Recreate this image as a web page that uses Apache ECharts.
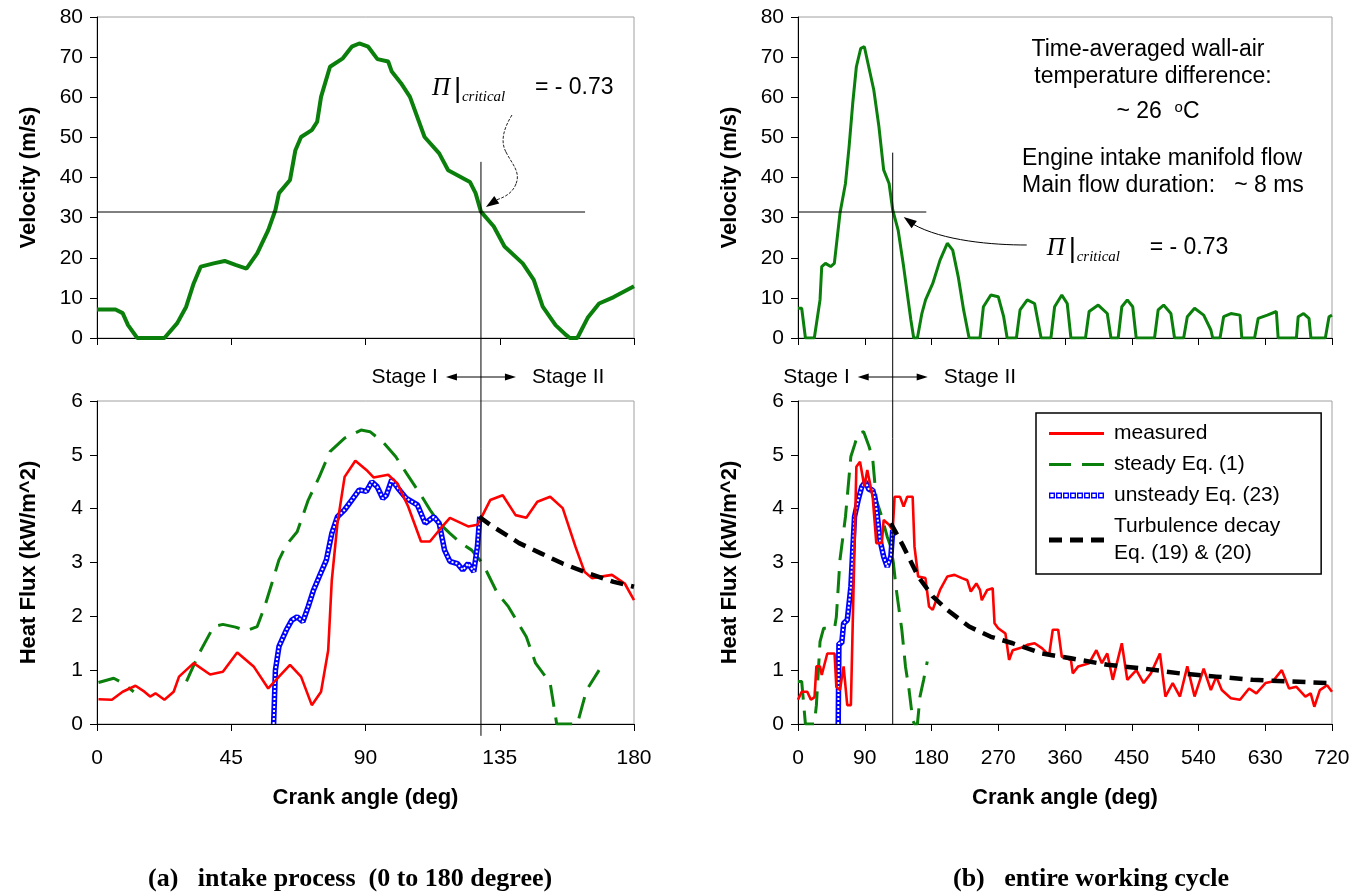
<!DOCTYPE html>
<html>
<head>
<meta charset="utf-8">
<script src="https://cdn.jsdelivr.net/npm/echarts@6/dist/echarts.min.js"></script>
<style>
  html, body { margin: 0; padding: 0; background: #fff; }
  #chart { width: 1360px; height: 895px; }
</style>
</head>
<body>
<div id="chart"></div>
<script>
// ---------- axis ticks ----------
const intakeAngleTicks = [0, 45, 90, 135, 180];
const cycleAngleTicks = [0, 90, 180, 270, 360, 450, 540, 630, 720];
const velocityTicks = [0, 10, 20, 30, 40, 50, 60, 70, 80];
const heatFluxTicks = [0, 1, 2, 3, 4, 5, 6];

// ---------- critical point (Stage I / Stage II boundary) ----------
const criticalVelocity = 31.4;
const criticalAngleIntake = 128.7;
const criticalAngleCycle = 127.7;
const criticalLineEndIntake = 163.6;
const criticalLineEndCycle = 173;

// ---------- (a) intake process, 0-180 deg ----------
const intakeVelocity = [
  [0, 7.1], [6.2, 7.1], [8.6, 6.2], [10.4, 3.2], [13.5, 0], [22.6, 0], [26.9, 3.7], [29.9, 7.8],
  [32.4, 13.6], [34.8, 17.8], [39.1, 18.6], [42.8, 19.2], [46.4, 18.2], [50.1, 17.3], [53.7, 21.1],
  [57.4, 26.9], [59.8, 31.9], [61.0, 36.1], [64.7, 39.4], [66.5, 46.8], [68.4, 50.1], [72.0, 51.8],
  [73.8, 53.9], [75.1, 60.1], [78.1, 67.6], [82.4, 69.7], [85.4, 72.6], [87.9, 73.4], [90.9, 72.6],
  [94.0, 69.5], [97.6, 68.9], [98.8, 66.4], [101.9, 63.5], [104.9, 60.1], [109.8, 50.1], [114.7, 46.0],
  [117.7, 41.8], [125.0, 38.9], [126.9, 36.1], [128.7, 31.5], [133.0, 27.8], [136.6, 22.8], [142.7, 18.6],
  [146.4, 14.5], [149.4, 7.8], [153.7, 3.2], [157.3, 0.7], [158.5, 0], [161.0, 0], [164.6, 5.2],
  [168.3, 8.6], [173.2, 10.2], [180, 12.9]
];
const intakeMeasured = [
  [0.5, 0.46], [5, 0.45], [8.6, 0.60], [12.9, 0.71], [15.9, 0.60], [17.8, 0.51], [19.6, 0.57], [22.6, 0.45],
  [25.7, 0.60], [27.5, 0.88], [32.4, 1.13], [37.9, 0.92], [42.2, 0.97], [47.0, 1.33], [52.5, 1.07],
  [57.4, 0.66], [61.0, 0.88], [64.7, 1.10], [68.4, 0.88], [72.0, 0.35], [75.1, 0.60], [77.5, 1.37],
  [78.7, 2.67], [80.6, 3.73], [83.0, 4.59], [86.6, 4.89], [90.3, 4.72], [92.7, 4.58], [97.6, 4.63],
  [100.7, 4.47], [104.3, 4.04], [108.6, 3.39], [111.6, 3.39], [114.7, 3.60], [118.3, 3.83], [124.4, 3.67],
  [127.5, 3.70], [128.7, 3.82], [131.8, 4.16], [136.0, 4.25], [140.3, 3.88], [143.9, 3.83], [147.6, 4.13],
  [151.9, 4.22], [156.1, 4.01], [160.4, 3.29], [163.4, 2.83], [165.9, 2.71], [172.6, 2.77], [176.9, 2.61],
  [180, 2.30]
];
const intakeSteady = [
  [0.5, 0.77], [5.6, 0.85], [8.6, 0.76], [12.3, 0.60], [20, null],
  [30, 0.79], [34.2, 1.31], [39.1, 1.81], [42.2, 1.85], [46.4, 1.80], [50.1, 1.73], [53.7, 1.81],
  [56.2, 2.18], [58.6, 2.61], [61.0, 3.05], [63.5, 3.33], [67.1, 3.57], [70.8, 4.16], [74.5, 4.59],
  [78.1, 5.06], [83.0, 5.31], [88.5, 5.46], [91.5, 5.43], [95.8, 5.24], [100.1, 4.97], [103.7, 4.66],
  [108.6, 4.25], [111.6, 3.98], [114.7, 3.73], [118.3, 3.54], [122.0, 3.36], [125.6, 3.23], [129.3, 2.98],
  [134.2, 2.43], [137.9, 2.18], [143.9, 1.62], [147.0, 1.13], [151.9, 0.76], [154.1, 0], [161, 0],
  [164.1, 0.63], [168.3, 1.00]
];
const intakeUnsteady = [
  [59.2, 0], [59.8, 1.0], [61.0, 1.44], [63.5, 1.75], [65.3, 1.93], [67.1, 1.99], [69.0, 1.90],
  [70.8, 2.18], [72.6, 2.49], [74.5, 2.74], [76.9, 3.05], [78.7, 3.54], [80.6, 3.85], [83.0, 3.98],
  [85.4, 4.16], [87.9, 4.35], [90.3, 4.32], [92.1, 4.50], [93.9, 4.41], [95.8, 4.19], [97.0, 4.25],
  [98.8, 4.54], [101.3, 4.35], [103.7, 4.19], [107.4, 4.07], [110.0, 3.73], [112.9, 3.85], [114.7, 3.73],
  [116.5, 3.23], [118.3, 3.02], [120.8, 2.98], [122.6, 2.86], [124.4, 2.98], [126.3, 2.83], [127.5, 3.29],
  [128.3, 3.85]
];
const intakeDecay = [
  [128.1, 3.85], [131.8, 3.70], [141.5, 3.36], [148.8, 3.17], [156.1, 2.98], [164.7, 2.80],
  [173.2, 2.64], [180, 2.55]
];

// ---------- (b) entire working cycle, 0-720 deg ----------
const cycleVelocity = [
  [0, 7.4], [5, 7.4], [10, 0], [22, 0], [29.7, 9.5], [32, 17.8], [37, 18.6], [44, 17.8], [49, 18.6],
  [56.6, 31.1], [64, 38.5], [68.9, 47.7], [73.8, 58.5], [78.7, 67.6], [84.6, 72.2], [89.5, 72.6],
  [94.4, 68.4], [102.2, 61.8], [109.1, 52.7], [115.5, 41.9], [122.8, 38.5], [127.7, 31.9], [135, 26.9],
  [142.4, 17.8], [152.2, 4.5], [156, 0], [161, 0], [167, 6.1], [172, 9.5], [181.7, 13.6], [191.5, 19.4],
  [201.3, 23.6], [208.6, 21.9], [216, 15.3], [223.3, 7.0], [230.7, 0], [245.4, 0], [250, 7.8],
  [260, 10.7], [270, 10.3], [277.3, 5.3], [282, 0], [294.5, 0], [299.4, 7.0], [309.1, 9.5], [319, 8.6],
  [327.8, 0], [341, 0], [346, 7.8], [355.7, 10.7], [363, 8.6], [368, 0], [387.6, 0], [392.5, 6.6],
  [404.8, 8.2], [417, 6.1], [422, 0], [431.7, 0], [436.6, 7.8], [444, 9.5], [451.3, 7.8], [456, 0],
  [480.7, 0], [485.6, 7.0], [493, 8.2], [502.8, 6.1], [507.7, 0], [520, 0], [524.9, 5.3], [534.7, 7.4],
  [547, 5.7], [556.7, 2.0], [559.2, 0], [569, 0], [573.9, 5.3], [583.7, 6.1], [596, 5.7], [598.4, 0],
  [615.6, 0], [620.5, 4.9], [632.8, 5.7], [645, 6.6], [647.4, 0], [672, 0], [674.4, 5.3], [681.7, 6.1],
  [689, 4.9], [691.6, 0], [711, 0], [716, 5.3], [720, 5.7]
];
const cycleMeasured = [
  [0, 0.45], [5, 0.60], [12.5, 0.60], [17.4, 0.45], [22.3, 0.50], [24.8, 1.07], [29.7, 1.07], [32, 0.91],
  [39.5, 1.31], [49.3, 1.31], [51.7, 0.69], [56.6, 0.63], [61.5, 1.07], [66.4, 0.35], [71.3, 0.35],
  [73.8, 1.87], [78.7, 4.78], [83.6, 4.87], [89.5, 4.41], [93.4, 4.72], [100.7, 4.22], [105.6, 3.36],
  [113, 3.36], [115.5, 3.79], [122.8, 3.70], [127.7, 3.60], [130.2, 4.22], [137.6, 4.22], [142.4, 4.04],
  [147.3, 4.22], [154.6, 4.22], [157.1, 3.29], [162, 2.74], [171.8, 2.71], [176.7, 2.18], [181.6, 2.12],
  [191.5, 2.49], [201.3, 2.74], [211, 2.77], [221, 2.71], [228.3, 2.67], [233, 2.46], [240.5, 2.61],
  [245.4, 2.49], [247.8, 2.30], [255.2, 2.49], [262.5, 2.52], [265, 1.87], [269.9, 1.78], [279.7, 1.68],
  [284.6, 1.19], [289.5, 1.37], [299.4, 1.41], [309.1, 1.47], [319, 1.50], [328.8, 1.41], [338.6, 1.28],
  [343.5, 1.75], [350.8, 1.75], [355.7, 1.25], [368, 1.19], [370.5, 0.94], [377.8, 1.07], [392.5, 1.13],
  [402.3, 1.37], [409.7, 1.13], [417, 1.31], [424.4, 0.82], [436.6, 1.50], [444, 0.82], [456.2, 1.00],
  [466, 0.76], [475.8, 0.94], [488, 1.31], [495.4, 0.51], [505.2, 0.76], [515, 0.51], [524.9, 1.07],
  [534.7, 0.51], [547, 1.03], [556.7, 0.63], [564, 0.88], [571.4, 0.63], [583.7, 0.48], [596, 0.45],
  [608.2, 0.66], [618, 0.57], [630.3, 0.76], [640, 0.79], [652.3, 1.00], [662.1, 0.66], [672, 0.69],
  [684.1, 0.51], [691.3, 0.57], [696.2, 0.32], [703.6, 0.63], [713.4, 0.72], [720, 0.60]
];
const cycleSteady = [
  [0, 0.79], [5, 0.79], [10, 0], [22, 0], [24.8, 0.35], [29.7, 1.53], [34.6, 1.78], [49.3, 1.78],
  [51.7, 1.99], [56.6, 3.05], [64, 3.85], [71.3, 4.97], [76.2, 5.18], [81.1, 5.40], [88.5, 5.43],
  [95.9, 5.15], [100.7, 4.93], [105.6, 4.16], [113, 3.85], [120.3, 3.48], [125.2, 3.29], [128.7, 2.98],
  [132.6, 2.49], [140, 1.75], [144.9, 1.07], [149.8, 0.63], [154.7, 0.07], [157, 0], [161, 0],
  [164.5, 0.51], [169.4, 0.82], [174.3, 1.16]
];
const cycleUnsteady = [
  [54.2, 0], [55.2, 1.5], [59, 1.5], [61.5, 1.87], [66.4, 1.93], [71.3, 2.55], [73.8, 3.23], [76.2, 3.85],
  [81.1, 4.16], [86, 4.41], [91, 4.50], [95.9, 4.35], [100.7, 4.35], [104.2, 4.16], [107.1, 3.85],
  [110.5, 3.42], [115.5, 3.11], [120.3, 2.92], [125.2, 3.11], [127.7, 3.60]
];
const cycleDecay = [
  [125.2, 3.73], [142.4, 3.29], [162, 2.74], [181.6, 2.37], [201.3, 2.12], [230.7, 1.81], [260, 1.62],
  [289.5, 1.50], [328.8, 1.31], [368, 1.22], [417, 1.10], [466, 1.03], [515, 0.94], [564, 0.88],
  [613, 0.82], [662, 0.79], [720, 0.76]
];

// ---------- styling ----------
const SANS = '"Liberation Sans", Arial, sans-serif';
const SERIF = '"Liberation Serif", "Times New Roman", serif';
const GREEN = '#0b7f0b';
const RED = '#ff0000';
const BLUE = '#0000ff';
const NAMES = {
  measured: 'measured',
  steady: 'steady Eq. (1)',
  unsteady: 'unsteady Eq. (23)',
  decay: 'Turbulence decay\nEq. (19) & (20)'
};

const grids = [
  { left: 97, top: 17, width: 537, height: 321 },
  { left: 97, top: 401, width: 537, height: 323 },
  { left: 798, top: 17, width: 534, height: 321 },
  { left: 798, top: 401, width: 534, height: 323 }
].map(g => Object.assign({
  show: true, borderColor: '#a0a0a0', borderWidth: 1, backgroundColor: 'transparent',
  outerBoundsMode: 'none', containLabel: false
}, g));

function xAxis(gridIndex, ticks, withLabels) {
  return {
    gridIndex, type: 'value',
    min: ticks[0], max: ticks[ticks.length - 1], interval: ticks[1] - ticks[0],
    axisLine: { show: true, onZero: false, lineStyle: { color: '#000', width: 1 } },
    axisTick: { show: true, length: 7, lineStyle: { color: '#000', width: 1 } },
    splitLine: { show: false },
    axisLabel: { show: withLabels, fontSize: 21, fontFamily: SANS, color: '#000', margin: 24 },
    name: withLabels ? 'Crank angle (deg)' : '',
    nameLocation: 'middle', nameGap: 63,
    nameTextStyle: { fontSize: 22, fontWeight: 'bold', fontFamily: SANS, color: '#000' }
  };
}
function yAxis(gridIndex, ticks, title) {
  return {
    gridIndex, type: 'value',
    min: ticks[0], max: ticks[ticks.length - 1], interval: ticks[1] - ticks[0],
    axisLine: { show: true, onZero: false, lineStyle: { color: '#000', width: 1 } },
    axisTick: { show: true, length: 7, lineStyle: { color: '#000', width: 1 } },
    splitLine: { show: false },
    axisLabel: { fontSize: 21, fontFamily: SANS, color: '#000', margin: 14 },
    name: title, nameLocation: 'middle', nameGap: 57, nameRotate: 90,
    nameTextStyle: { fontSize: 22, fontWeight: 'bold', fontFamily: SANS, color: '#000' }
  };
}

function lineSeries(name, idx, data, lineStyle, z) {
  return {
    type: 'line', name, xAxisIndex: idx, yAxisIndex: idx, data,
    showSymbol: false, symbol: 'none', connectNulls: false, silent: true,
    lineStyle, itemStyle: { color: lineStyle.color }, z: z || 2
  };
}

function heatFluxSeries(idx, measured, steady, unsteady, decay) {
  return [
    lineSeries(NAMES.steady, idx, steady, { color: GREEN, width: 3, type: [22, 11] }, 2),
    lineSeries(NAMES.unsteady, idx, unsteady, { color: BLUE, width: 5.5 }, 3),
    lineSeries('unsteady-core', idx, unsteady, { color: '#ffffff', width: 2, type: [2, 2] }, 4),
    lineSeries(NAMES.measured, idx, measured, { color: RED, width: 2.6 }, 5),
    lineSeries(NAMES.decay, idx, decay, { color: '#000', width: 4.5, type: [13, 8] }, 6)
  ];
}

// legend key: a row of hollow squares
let squaresPath = 'path://';
for (let i = 0; i < 8; i++) {
  const x = i * 7;
  squaresPath += `M${x},0h6v6h-6Z M${x + 1.4},1.4v3.2h3.2v-3.2Z `;
}

const option = {
  animation: false,
  backgroundColor: '#ffffff',
  grid: grids,
  xAxis: [
    xAxis(0, intakeAngleTicks, false),
    xAxis(1, intakeAngleTicks, true),
    xAxis(2, cycleAngleTicks, false),
    xAxis(3, cycleAngleTicks, true)
  ],
  yAxis: [
    yAxis(0, velocityTicks, 'Velocity (m/s)'),
    yAxis(1, heatFluxTicks, 'Heat Flux (kW/m^2)'),
    yAxis(2, velocityTicks, 'Velocity (m/s)'),
    yAxis(3, heatFluxTicks, 'Heat Flux (kW/m^2)')
  ],
  legend: {
    orient: 'vertical', left: 1036, top: 413,
    padding: [7, 41, 7, 13], itemGap: 4, itemWidth: 55, itemHeight: 14,
    borderColor: '#000', borderWidth: 1.5, backgroundColor: '#fff',
    selectedMode: false,
    textStyle: { fontSize: 21, fontFamily: SANS, color: '#000', lineHeight: 27, padding: [0, 0, 0, 5] },
    data: [
      { name: NAMES.measured, icon: 'path://M0,0H55V3H0Z', itemStyle: { color: RED, borderWidth: 0 } },
      { name: NAMES.steady, icon: 'path://M0,0H22V3H0ZM33,0H55V3H33Z', itemStyle: { color: GREEN, borderWidth: 0 } },
      { name: NAMES.unsteady, icon: squaresPath, itemStyle: { color: BLUE, borderWidth: 0 } },
      { name: NAMES.decay, icon: 'path://M0,0H13V5H0ZM21,0H34V5H21ZM42,0H55V5H42Z', itemStyle: { color: '#000', borderWidth: 0 } }
    ]
  },
  series: [
    lineSeries('velocity', 0, intakeVelocity, { color: GREEN, width: 4 }, 3),
    lineSeries('critical velocity', 0, [[0, criticalVelocity], [criticalLineEndIntake, criticalVelocity]], { color: '#000', width: 1 }, 4),
    ...heatFluxSeries(1, intakeMeasured, intakeSteady, intakeUnsteady, intakeDecay),
    lineSeries('velocity', 2, cycleVelocity, { color: GREEN, width: 3 }, 3),
    lineSeries('critical velocity', 2, [[0, criticalVelocity], [criticalLineEndCycle, criticalVelocity]], { color: '#000', width: 1 }, 4),
    ...heatFluxSeries(3, cycleMeasured, cycleSteady, cycleUnsteady, cycleDecay)
  ]
};

const chart = echarts.init(document.getElementById('chart'), null, { renderer: 'canvas' });
chart.setOption(option);

// ---------- annotations anchored on the critical point ----------
function px(idx, pt) { return chart.convertToPixel({ xAxisIndex: idx, yAxisIndex: idx }, pt); }

const aTop = px(0, [criticalAngleIntake, 43.9]);
const aBottom = px(1, [criticalAngleIntake, -0.22]);
const aPoint = px(0, [criticalAngleIntake, criticalVelocity]);
const bTop = px(2, [criticalAngleCycle, 46.2]);
const bBottom = px(3, [criticalAngleCycle, 0]);
const bPoint = px(2, [criticalAngleCycle, criticalVelocity]);

const STAGE_Y = 377;
function stageMarker(cx) {
  return [
    { type: 'line', shape: { x1: cx - 30, y1: STAGE_Y, x2: cx + 30, y2: STAGE_Y }, style: { stroke: '#000', lineWidth: 1 } },
    { type: 'polygon', shape: { points: [[cx - 35, STAGE_Y], [cx - 24, STAGE_Y - 3.5], [cx - 24, STAGE_Y + 3.5]] }, style: { fill: '#000' } },
    { type: 'polygon', shape: { points: [[cx + 35, STAGE_Y], [cx + 24, STAGE_Y - 3.5], [cx + 24, STAGE_Y + 3.5]] }, style: { fill: '#000' } },
    { type: 'text', x: cx - 43, y: STAGE_Y, style: { text: 'Stage I', font: `21px ${SANS}`, fill: '#000', align: 'right', verticalAlign: 'middle' } },
    { type: 'text', x: cx + 51, y: STAGE_Y, style: { text: 'Stage II', font: `21px ${SANS}`, fill: '#000', align: 'left', verticalAlign: 'middle' } }
  ];
}

function piLabel(x, y) {
  return [
    { type: 'text', x, y, style: { text: 'Π', font: `italic 25px ${SERIF}`, fill: '#000', verticalAlign: 'middle' } },
    { type: 'text', x: x + 22, y: y + 1, style: { text: '|', font: `28px ${SANS}`, fill: '#000', verticalAlign: 'middle' } },
    { type: 'text', x: x + 30, y: y + 9, style: { text: 'critical', font: `italic 15px ${SERIF}`, fill: '#000', verticalAlign: 'middle' } },
    { type: 'text', x: x + 103, y, style: { text: '= - 0.73', font: `23px ${SANS}`, fill: '#000', verticalAlign: 'middle' } }
  ];
}

function arrowHead(tip, from, len, half) {
  const dx = tip[0] - from[0], dy = tip[1] - from[1];
  const d = Math.hypot(dx, dy);
  const ux = dx / d, uy = dy / d;
  const bx = tip[0] - ux * len, by = tip[1] - uy * len;
  return { type: 'polygon', shape: { points: [tip, [bx - uy * half, by + ux * half], [bx + uy * half, by - ux * half]] }, style: { fill: '#000' } };
}

// cubic segment relative to an anchor point
function curve(o, p0, c1, c2, p1, style) {
  return {
    type: 'bezierCurve',
    shape: { x1: o[0] + p0[0], y1: o[1] + p0[1], cpx1: o[0] + c1[0], cpy1: o[1] + c1[1],
             cpx2: o[0] + c2[0], cpy2: o[1] + c2[1], x2: o[0] + p1[0], y2: o[1] + p1[1] },
    style: Object.assign({ stroke: '#000', lineWidth: 1, fill: null }, style)
  };
}

const ax = aPoint[0], ay = aPoint[1];
const bx = bPoint[0], by = bPoint[1];
const wavy = { stroke: '#222', lineDash: [3, 1.5] };

const graphics = [
  // Stage boundary lines
  { type: 'line', shape: { x1: aTop[0], y1: aTop[1], x2: aBottom[0], y2: aBottom[1] }, style: { stroke: '#000', lineWidth: 1 }, z: 10 },
  { type: 'line', shape: { x1: bTop[0], y1: bTop[1], x2: bBottom[0], y2: bBottom[1] }, style: { stroke: '#000', lineWidth: 1 }, z: 10 },
  ...stageMarker(aTop[0]),
  ...stageMarker(bTop[0]),
  // (a) critical label and wavy pointer
  ...piLabel(ax - 49, ay - 124),
  curve(aPoint, [31, -97], [23, -84], [19, -71], [25, -60], wavy),
  curve(aPoint, [25, -60], [31, -48], [40, -40], [35, -28], wavy),
  curve(aPoint, [35, -28], [32, -20], [25, -15], [15, -12], wavy),
  arrowHead([ax + 5, ay - 5], [ax + 17, ay - 13], 13, 4.5),
  // (b) critical label and pointer
  ...piLabel(bx + 154, by + 36),
  curve(bPoint, [134, 33], [100, 33], [50, 29], [20, 12], {}),
  arrowHead([bx + 11, by + 5], [bx + 22, by + 13], 13, 4.5),
  // (b) notes
  { type: 'text', x: 1148, y: 50, style: { text: 'Time-averaged wall-air', font: `23px ${SANS}`, fill: '#000', align: 'center', verticalAlign: 'middle' } },
  { type: 'text', x: 1153, y: 77, style: { text: 'temperature difference:', font: `23px ${SANS}`, fill: '#000', align: 'center', verticalAlign: 'middle' } },
  { type: 'text', x: 1158, y: 112, style: { text: '~ 26  {s|o}C', font: `23px ${SANS}`, fill: '#000', align: 'center', verticalAlign: 'middle',
      rich: { s: { fontSize: 15, fontFamily: SANS, verticalAlign: 'top', padding: [0, 0, 8, 0] } } } },
  { type: 'text', x: 1022, y: 159, style: { text: 'Engine intake manifold flow', font: `23px ${SANS}`, fill: '#000', align: 'left', verticalAlign: 'middle' } },
  { type: 'text', x: 1022, y: 186, style: { text: 'Main flow duration:   ~ 8 ms', font: `23px ${SANS}`, fill: '#000', align: 'left', verticalAlign: 'middle' } },
  // captions
  { type: 'text', x: 148, y: 879, style: { text: '(a)   intake process  (0 to 180 degree)', font: `bold 26px ${SERIF}`, fill: '#000', verticalAlign: 'middle' } },
  { type: 'text', x: 953, y: 879, style: { text: '(b)   entire working cycle', font: `bold 26px ${SERIF}`, fill: '#000', verticalAlign: 'middle' } }
];

chart.setOption({ graphic: graphics });
</script>
</body>
</html>
